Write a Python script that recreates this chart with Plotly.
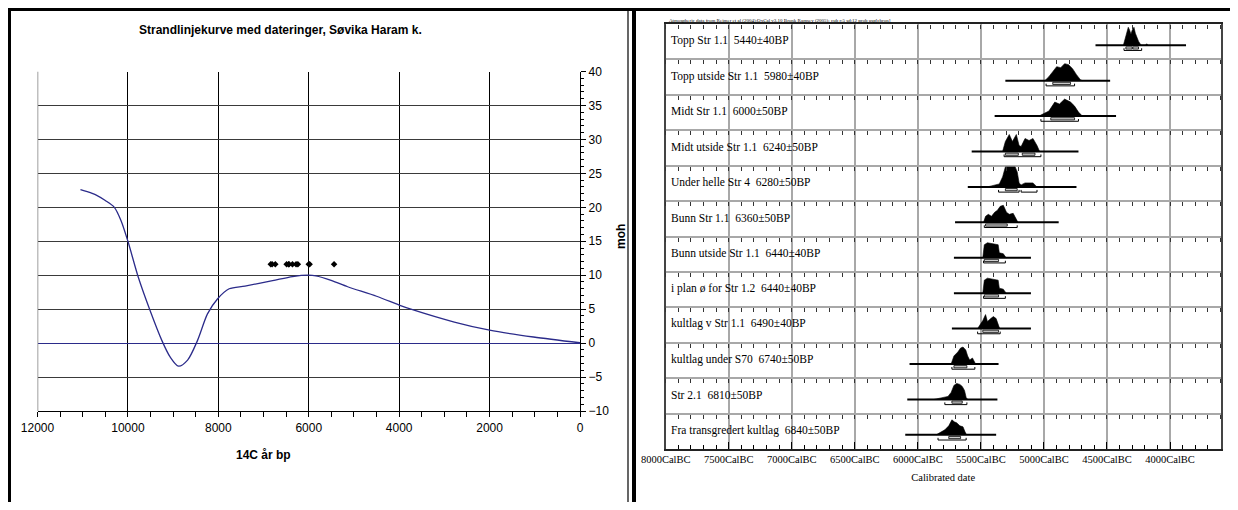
import plotly.graph_objects as go

# page body has an 8px default margin; the figure is sized to fit the 1238x510 window
OX, OY = 8, 8
FW, FH = 1238 - 2 * OX, 510 - 2 * OY


def px_x(x):
    return (x - OX) / FW


def px_y(y):
    return 1 - (y - OY) / FH


# ---------------- Left chart: shoreline curve ----------------
curve_age = [11050, 10900, 10700, 10500, 10300, 10150, 10000, 9770, 9510, 9250, 9070,
             8880, 8680, 8460, 8240, 8020, 7760, 7410, 6800, 6360, 6010, 5840, 5490,
             5140, 4500, 4000, 3740, 2780, 2000, 1030, 0]
curve_moh = [22.6, 22.3, 21.8, 21.0, 20.0, 18.0, 15.0, 9.7, 4.8, 0.4, -2.0,
             -3.4, -2.5, 0.4, 4.3, 6.5, 8.0, 8.4, 9.2, 9.8, 10.0, 9.9, 9.2,
             8.3, 6.9, 5.6, 5.0, 3.1, 1.9, 0.9, 0.05]
dot_level = 11.6

# ---------------- Right chart: OxCal calibrations ----------------
sample_names = ["Topp Str 1.1", "Topp utside Str 1.1", "Midt Str 1.1", "Midt utside Str 1.1",
                "Under helle Str 4", "Bunn Str 1.1", "Bunn utside Str 1.1", "i plan ø for Str 1.2",
                "kultlag v Str 1.1", "kultlag under S70", "Str 2.1", "Fra transgredert kultlag"]
bp_values = [5440, 5980, 6000, 6240, 6280, 6360, 6440, 6440, 6490, 6740, 6810, 6840]
bp_errors = [40, 40, 50, 50, 50, 50, 40, 40, 40, 50, 50, 50]

base_start = [4591, 5306, 5391, 5573, 5604, 5705, 5714, 5714, 5730, 6066, 6084, 6100]
base_end = [3873, 4475, 4428, 4726, 4742, 4883, 5103, 5103, 5103, 5360, 5369, 5379]

dist_years = [
    [4370, 4355, 4340, 4331, 4320, 4310, 4300, 4286, 4275, 4264, 4250, 4235, 4225, 4195, 4185, 4175],
    [4993, 4961, 4930, 4899, 4867, 4836, 4805, 4773, 4742, 4711, 4695],
    [5040, 5008, 4961, 4914, 4877, 4836, 4789, 4757, 4726, 4695],
    [5328, 5306, 5275, 5250, 5219, 5197, 5181, 5150, 5118, 5087, 5055, 5034],
    [5448, 5401, 5354, 5328, 5306, 5228, 5212, 5197, 5181, 5150, 5087, 5055],
    [5479, 5463, 5441, 5416, 5391, 5369, 5347, 5322, 5297, 5275, 5244, 5222, 5206],
    [5485, 5473, 5448, 5385, 5363, 5354, 5322, 5306, 5297],
    [5485, 5473, 5448, 5385, 5363, 5354, 5322, 5306, 5297],
    [5526, 5504, 5485, 5463, 5448, 5422, 5401, 5379, 5366, 5354, 5344],
    [5736, 5714, 5683, 5661, 5642, 5620, 5605, 5589, 5567, 5554, 5542],
    [5871, 5808, 5761, 5736, 5714, 5692, 5667, 5648, 5630, 5617, 5605],
    [5855, 5824, 5786, 5755, 5730, 5711, 5692, 5667, 5642, 5626, 5614],
]
dist_probs = [
    [0, 6, 14, 18, 15, 11, 15, 18, 12, 8, 4, 1, 0, 0, 1.5, 0],
    [0, 4, 9, 14, 13, 17, 16, 12, 6, 1, 0],
    [0, 2, 5, 14, 12, 17, 14, 10, 4, 0],
    [0, 10, 17, 10, 17, 6, 5, 13, 11, 13, 6, 0],
    [0, 1.5, 3, 10, 20, 20, 15, 4, 2, 4, 4, 0],
    [0, 6, 8, 6, 10, 12, 16, 17, 10, 8, 9, 3, 0],
    [0, 13, 15, 14, 13, 5, 4, 1, 0],
    [0, 13, 15, 14, 13, 5, 4, 1, 0],
    [0, 4, 8, 14, 7, 10, 12, 10, 6, 1, 0],
    [0, 8, 12, 16, 17, 14, 8, 4, 6, 2, 0],
    [0, 1.5, 3, 7, 14, 16, 15, 13, 9, 2, 0],
    [0, 2, 5, 9, 15, 13, 12, 9, 8, 3, 0],
]
sigma1 = [
    [(4350, 4300), (4295, 4250)],
    [(4930, 4789)],
    [(4946, 4757)],
    [(5306, 5203), (5172, 5071)],
    [(5306, 5212)],
    [(5463, 5291)],
    [(5473, 5360)],
    [(5473, 5360)],
    [(5485, 5360)],
    [(5714, 5611)],
    [(5730, 5648)],
    [(5755, 5661)],
]
sigma2 = [
    [(4365, 4225)],
    [(4983, 4757)],
    [(5024, 4726)],
    [(5316, 5024)],
    [(5360, 5197), (5181, 5055)],
    [(5473, 5212)],
    [(5479, 5306)],
    [(5479, 5306)],
    [(5526, 5347)],
    [(5730, 5548)],
    [(5786, 5611)],
    [(5840, 5617)],
]
cal_ticks = [8000, 7500, 7000, 6500, 6000, 5500, 5000, 4500, 4000]
cal_range = [8000, 3598]
header_text = ("Atmospheric data from Reimer et al (2004);OxCal v3.10 Bronk Ramsey (2005); "
               "cub r:5 sd:12 prob usp[chron]")

NAVY = "#2b2b8a"
SANS = "Liberation Sans"
SERIF = "Liberation Serif"
ROW_PX = (449 - 24) / 12.0
PSCALE = 1.0 / ROW_PX

fig = go.Figure()

fig.add_trace(go.Scatter(x=curve_age, y=curve_moh, mode="lines",
                         line=dict(color=NAVY, width=1.3, shape="spline", smoothing=0.8),
                         xaxis="x", yaxis="y", showlegend=False, hoverinfo="skip"))
fig.add_trace(go.Scatter(x=bp_values, y=[dot_level] * len(bp_values), mode="markers",
                         marker=dict(color="black", size=5, symbol="diamond"),
                         xaxis="x", yaxis="y", showlegend=False, hoverinfo="skip"))

shapes = []
annotations = []
for i, name in enumerate(sample_names):
    base = 11.4 - i
    fig.add_trace(go.Scatter(x=[base_start[i], base_end[i]], y=[base, base], mode="lines",
                             line=dict(color="black", width=2), xaxis="x2", yaxis="y2",
                             showlegend=False, hoverinfo="skip"))
    fig.add_trace(go.Scatter(x=dist_years[i], y=[base + p * PSCALE for p in dist_probs[i]],
                             mode="lines", fill="toself", fillcolor="black",
                             line=dict(color="black", width=0.6), xaxis="x2", yaxis="y2",
                             showlegend=False, hoverinfo="skip"))
    for a, b in sigma1[i]:
        shapes.append(dict(type="rect", xref="x2", yref="y2", x0=a, x1=b,
                           y0=base - 1.6 * PSCALE, y1=base - 3.8 * PSCALE,
                           line=dict(color="black", width=0.8), fillcolor="#cfcfcf"))
    for a, b in sigma2[i]:
        yl = base - 5.2 * PSCALE
        yt = base - 3.0 * PSCALE
        fig.add_trace(go.Scatter(x=[a, a, b, b], y=[yt, yl, yl, yt], mode="lines",
                                 line=dict(color="black", width=1), xaxis="x2", yaxis="y2",
                                 showlegend=False, hoverinfo="skip"))
    annotations.append(dict(x=cal_range[0], y=12 - i - 0.47, xref="x2", yref="y2",
                            xanchor="left", yanchor="middle", xshift=3, showarrow=False,
                            text=f"{name}\u00a0\u00a0{bp_values[i]}±{bp_errors[i]}BP",
                            font=dict(family=SERIF, size=11.5, color="black")))

# overlay axes giving the small 100-year ticks on each row boundary
y2_dom = [px_y(449), px_y(24)]
extra_axes = {}
for k in range(12):
    v = 12 - k
    name = f"xaxis{3 + k}"
    extra_axes[name] = dict(overlaying="x2", anchor="free", automargin=False,
                            position=y2_dom[0] + v / 12.0 * (y2_dom[1] - y2_dom[0]),
                            range=cal_range, side="bottom", tickmode="linear", tick0=0, dtick=100,
                            ticks="outside", ticklen=4, tickcolor="#333", tickwidth=1,
                            showticklabels=False, showgrid=False, zeroline=False, showline=False)
    fig.add_trace(go.Scatter(x=[], y=[], xaxis=f"x{3 + k}", yaxis="y2", showlegend=False,
                             hoverinfo="skip"))

# panel frames
frame = dict(xref="paper", yref="paper", type="line")
shapes += [
    dict(**frame, x0=px_x(9.5), x1=px_x(9.5), y0=px_y(8), y1=px_y(520), line=dict(color="black", width=3)),
    dict(**frame, x0=px_x(8), x1=px_x(1240), y0=px_y(9.5), y1=px_y(9.5), line=dict(color="black", width=3)),
    dict(**frame, x0=px_x(628), x1=px_x(628), y0=px_y(9.5), y1=px_y(520), line=dict(color="black", width=1.2)),
    dict(**frame, x0=px_x(634), x1=px_x(634), y0=px_y(9.5), y1=px_y(520), line=dict(color="black", width=4)),
    dict(type="line", xref="x", yref="y", x0=12000, x1=12000, y0=-10, y1=40,
         line=dict(color="#808080", width=1.5)),
]

annotations += [
    dict(x=px_x(280), y=px_y(30), xref="paper", yref="paper", showarrow=False,
         xanchor="center", yanchor="middle",
         text="<b>Strandlinjekurve med dateringer, Søvika Haram k.</b>",
         font=dict(family=SANS, size=12, color="black")),
    dict(x=px_x(263), y=px_y(455), xref="paper", yref="paper", showarrow=False,
         xanchor="center", yanchor="middle",
         text="<b>14C år bp</b>", font=dict(family=SANS, size=12, color="black")),
    dict(x=px_x(621), y=px_y(237), xref="paper", yref="paper", showarrow=False, textangle=-90,
         xanchor="center", yanchor="middle",
         text="<b>moh</b>", font=dict(family=SANS, size=12, color="black")),
    dict(x=px_x(667), y=px_y(20), xref="paper", yref="paper", showarrow=False, xanchor="left",
         yanchor="middle", text=header_text, font=dict(family=SERIF, size=5, color="black")),
]

fig.update_layout(
    width=FW, height=FH, margin=dict(l=0, r=0, t=0, b=0, autoexpand=False),
    paper_bgcolor="white", plot_bgcolor="white", showlegend=False,
    xaxis=dict(domain=[px_x(37.5), px_x(580)], range=[12000, 0], anchor="y", automargin=False,
               tickmode="linear", tick0=0, dtick=2000, tickformat="d",
               ticks="outside", ticklen=5, tickcolor="black",
               minor=dict(dtick=500, ticks="outside", ticklen=5, tickcolor="black", showgrid=False),
               showgrid=True, gridcolor="black", gridwidth=1.2,
               showline=True, linecolor="black", linewidth=1.3, zeroline=False,
               tickfont=dict(family=SANS, size=12, color="black")),
    yaxis=dict(domain=[px_y(411), px_y(71.5)], range=[-10, 40], anchor="x", side="right",
               automargin=False,
               tickmode="linear", tick0=0, dtick=5, ticks="outside", ticklen=5, tickcolor="black",
               minor=dict(dtick=1, ticks="outside", ticklen=3, tickcolor="black", showgrid=False),
               showgrid=True, gridcolor="#3a3a3a", gridwidth=1.2,
               zeroline=True, zerolinecolor=NAVY, zerolinewidth=1.3,
               showline=True, linecolor="black", linewidth=1.3,
               tickfont=dict(family=SANS, size=12, color="black")),
    xaxis2=dict(domain=[px_x(665.7), px_x(1220.7)], range=cal_range, anchor="y2", automargin=False,
                tickmode="array", tickvals=cal_ticks, ticktext=[f"{t}CalBC" for t in cal_ticks],
                ticks="inside", ticklen=7, tickcolor="black", tickwidth=1.2,
                minor=dict(tickmode="linear", tick0=0, dtick=100, ticks="inside", ticklen=4,
                           tickcolor="black", showgrid=False),
                showgrid=True, gridcolor="#a8a8a8", gridwidth=1.5,
                showline=True, linecolor="#222", linewidth=1.5, mirror=True, zeroline=False,
                tickfont=dict(family=SERIF, size=10.5, color="black"),
                title=dict(text="Calibrated date", standoff=9,
                           font=dict(family=SERIF, size=10.5, color="black"))),
    yaxis2=dict(domain=y2_dom, range=[0, 12], anchor="x2", tickmode="linear", tick0=0, dtick=1,
                automargin=False,
                showticklabels=False, ticks="", showgrid=True, gridcolor="#a8a8a8", gridwidth=1.5,
                showline=True, linecolor="#444", linewidth=1.5, mirror=True, zeroline=False),
    shapes=shapes, annotations=annotations,
    **extra_axes,
)

fig.write_html("out.html")
